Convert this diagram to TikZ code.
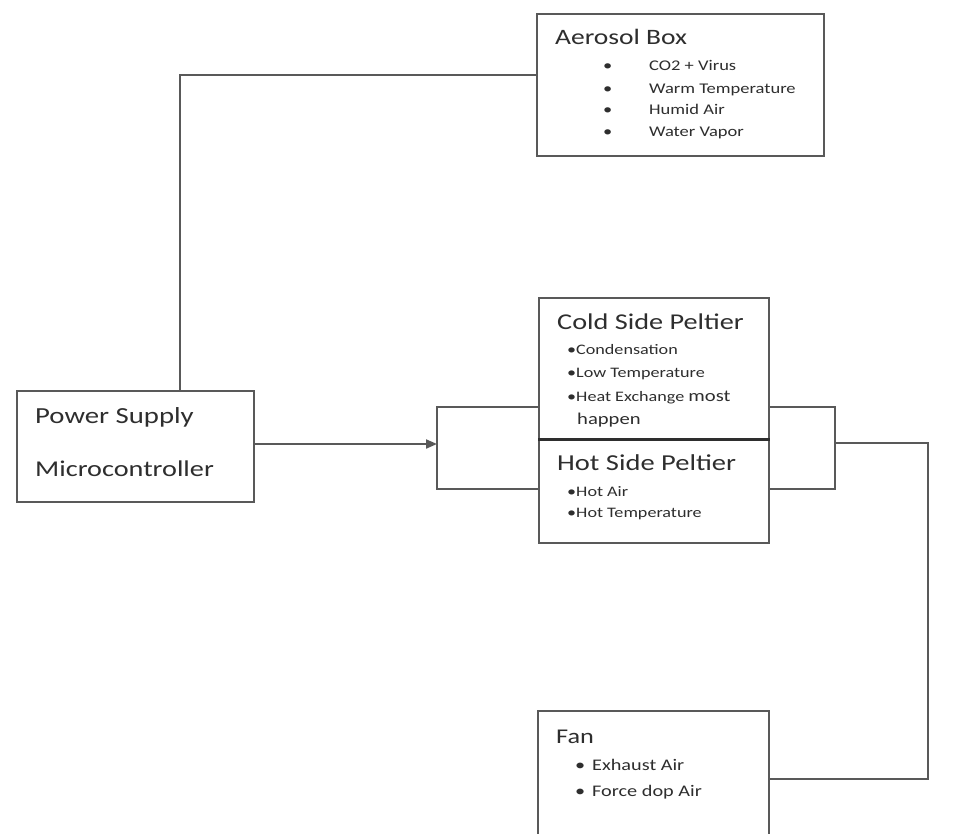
\documentclass[tikz,border=0pt]{standalone}
\usepackage{fontspec}
\setmainfont{Carlito}[FakeStretch=1.25]
\usetikzlibrary{arrows.meta}
\definecolor{linec}{HTML}{595959}
\definecolor{textc}{HTML}{2E2E2E}
\newcommand{\fs}[1]{\fontsize{#1}{#1}\selectfont}
\begin{document}
\begin{tikzpicture}[x=1pt,y=-1pt,
  box/.style={draw=linec, line width=1.9pt, anchor=north west, inner sep=0pt, fill=white},
  link/.style={draw=linec, line width=1.9pt},
  txt/.style={anchor=base west, inner sep=0pt, text=textc}]
\useasboundingbox (0,0) rectangle (966,834);
\fill[white] (0,0) rectangle (966,834);
\clip (0,0) rectangle (966,834);

% boxes
\node[box, minimum width=287pt, minimum height=142pt] (aero) at (536,13) {};
\node[box, minimum width=237pt, minimum height=111pt] (ps) at (16,390) {};
\node[box, minimum width=230pt, minimum height=141pt] (cold) at (538,297) {};
\node[box, minimum width=230pt, minimum height=104pt] (hot) at (538,438) {};
\node[box, minimum width=231pt, minimum height=160pt] (fan) at (537,710) {};
\draw[draw=textc, line width=3pt] (cold.south west) -- (cold.south east);

% connectors
\coordinate (j1) at (180,75);
\draw[link] (ps.north -| j1) -- (j1) -- (aero.west |- j1);

\coordinate (lt) at (437,407);
\coordinate (lb) at (437,489);
\coordinate (lm) at (437,444);
\draw[link, line width=2pt, -{Triangle[length=11pt,width=9pt]}] (ps.east |- lm) -- (lm);
\draw[link] (lt -| cold.west) -- (lt) -- (lb) -- (lb -| hot.west);

\coordinate (rt) at (835,407);
\coordinate (rb) at (835,489);
\coordinate (rm) at (835,443);
\coordinate (rc) at (928,443);
\coordinate (rd) at (928,779);
\draw[link] (rt -| cold.east) -- (rt) -- (rb) -- (rb -| hot.east);
\draw[link] (rm) -- (rc) -- (rd) -- (rd -| fan.east);

% Aerosol box texts
\node[txt, font=\fs{22}] (aerot) at (555,45) {Aerosol Box};
\node[txt, font=\fs{14.8}] (a1b) at (603,71) {•};
\node[txt, font=\fs{14.8}] (a1) at (649,71) {CO2 + Virus};
\node[txt, font=\fs{14.8}] (a2b) at (603,94) {•};
\node[txt, font=\fs{14.8}] (a2) at (649,94) {Warm Temperature};
\node[txt, font=\fs{14.8}] (a3b) at (603,115) {•};
\node[txt, font=\fs{14.8}] (a3) at (649,115) {Humid Air};
\node[txt, font=\fs{14.8}] (a4b) at (603,137) {•};
\node[txt, font=\fs{14.8}] (a4) at (649,137) {Water Vapor};

% Power supply
\node[txt, font=\fs{23}] (ps1) at (35,423) {Power Supply};
\node[txt, font=\fs{22.6}] (ps2) at (35,476) {Microcontroller};

% Cold side
\node[txt, font=\fs{22.6}] (coldt) at (557,329) {Cold Side Peltier};
\node[txt, font=\fs{14.5}] (c1) at (567,354) {•Condensation};
\node[txt, font=\fs{14.5}] (c2) at (567,377) {•Low Temperature};
\node[txt, font=\fs{14.5}] (c3) at (567,401) {•Heat Exchange {\fs{16.5}most}};
\node[txt, font=\fs{16.5}] (c4) at (577,424) {happen};

% Hot side
\node[txt, font=\fs{22.8}] (hott) at (557,470) {Hot Side Peltier};
\node[txt, font=\fs{14.5}] (h1) at (567,496) {•Hot Air};
\node[txt, font=\fs{14.5}] (h2) at (567,517) {•Hot Temperature};

% Fan
\node[txt, font=\fs{21}] (fant) at (556,743) {Fan};
\node[txt, font=\fs{16.2}] (f1b) at (575,770) {•};
\node[txt, font=\fs{16.2}] (f1) at (592,770) {Exhaust Air};
\node[txt, font=\fs{16.2}] (f2b) at (575,796) {•};
\node[txt, font=\fs{16.2}] (f2) at (592,796) {Force dop Air};
\end{tikzpicture}
\end{document}
